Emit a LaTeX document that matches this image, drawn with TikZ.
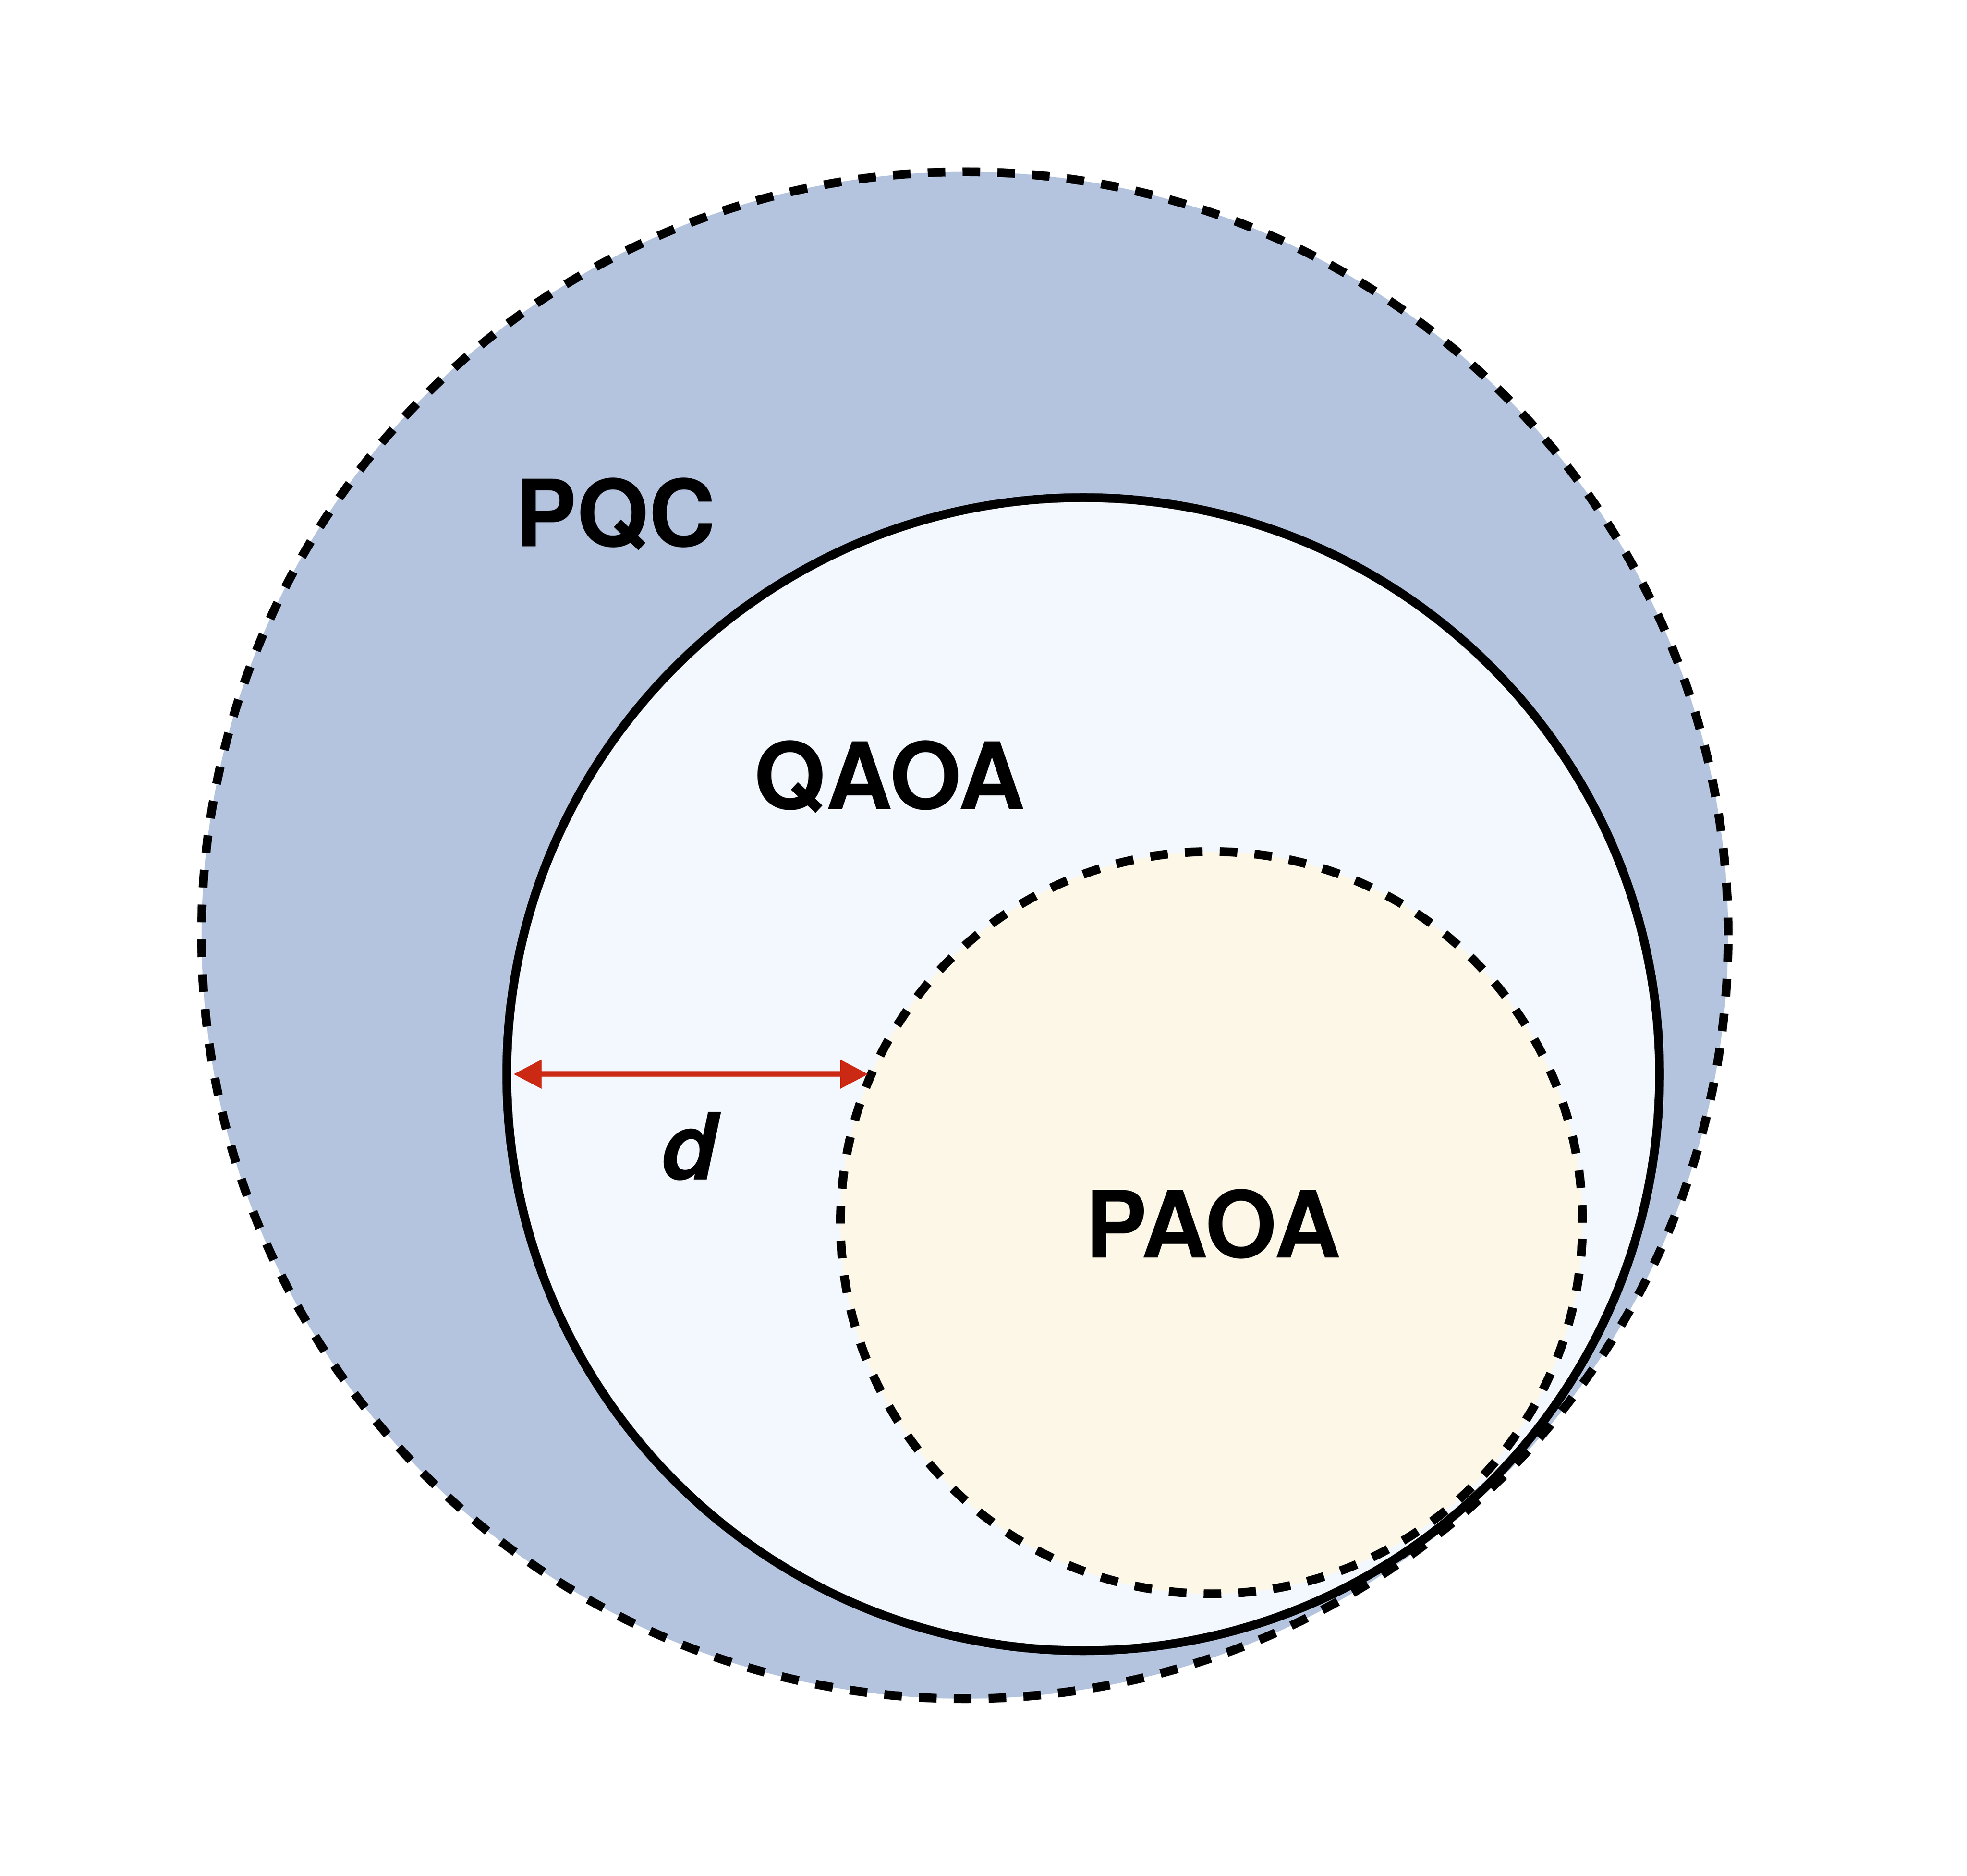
\documentclass[tikz,border=0pt]{standalone}
\usepackage{fontspec}
\setmainfont{TeX Gyre Heros}
\usepackage{xcolor}
\usetikzlibrary{arrows.meta}
\definecolor{pqcblue}{HTML}{B4C4DE}
\definecolor{qaoablue}{HTML}{F3F8FE}
\definecolor{paoacream}{HTML}{FDF7E8}
\definecolor{distred}{HTML}{CC2914}

\begin{document}
\begin{tikzpicture}[
    setcircle/.style={circle, draw=black, line width=0.21cm, inner sep=0pt, outer sep=0pt},
    dashedset/.style={setcircle, dash pattern=on 0.42cm off 0.41cm},
    setlabel/.style={anchor=base, font=\fontsize{62.9pt}{75pt}\selectfont\bfseries},
    arrow/.style={{Triangle[length=0.67cm, width=0.66cm]}-{Triangle[length=0.67cm, width=0.66cm]}, line width=0.13cm, color=distred}
]
    \useasboundingbox (0,0) rectangle (46.89,44.70);
    \node[dashedset, fill=pqcblue, minimum size=36.39cm] (pqc) at (23.00,22.41) {};
    \node[setcircle, fill=qaoablue, minimum size=27.48cm] (qaoa) at (25.82,19.10) {};
    \node[dashedset, fill=paoacream, minimum size=17.69cm] (paoa) at (28.88,15.56) {};

    \draw[arrow, shorten <=0.16cm, shorten >=0.10cm] (qaoa.west) -- (paoa.156.4 |- qaoa.west);

    \node[setlabel] (pqclabel) at (14.67,31.67) {PQC};
    \node[setlabel] (qaoalabel) at (21.20,25.41) {QAOA};
    \node[setlabel] (paoalabel) at (28.92,14.73) {PAOA};
    \node[setlabel] (dlabel) at (16.46,16.59) {\textit{d}};
\end{tikzpicture}
\end{document}
